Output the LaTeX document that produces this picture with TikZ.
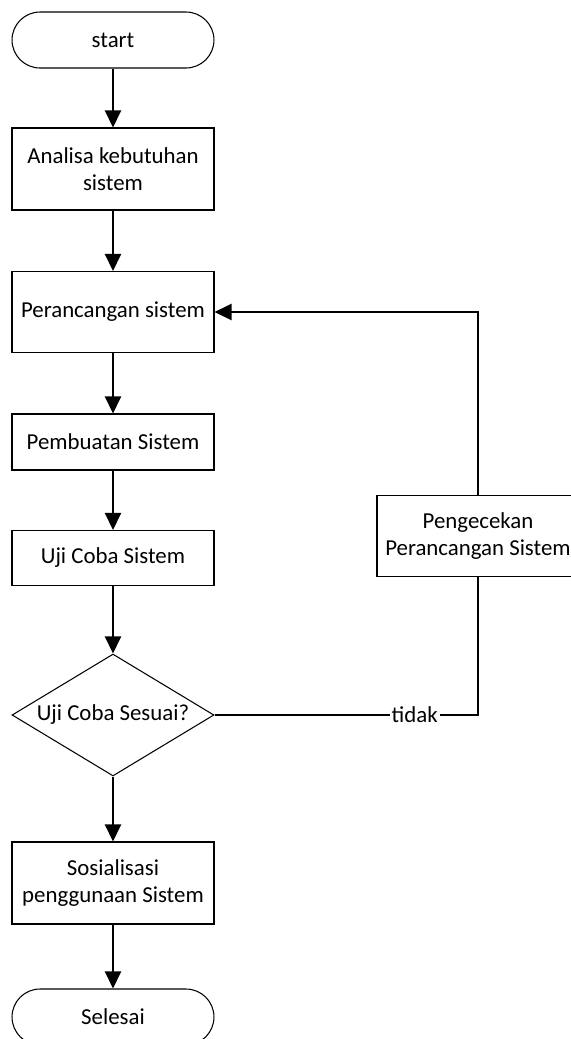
\documentclass[tikz,border=0pt]{standalone}
\usepackage{fontspec}
\setmainfont{Carlito}
\usetikzlibrary{shapes.geometric,arrows.meta}
\tikzset{
  terminal/.style={draw,rounded corners=0.56cm,minimum width=4.04cm,minimum height=1.12cm,line width=0.6pt},
  proses/.style={draw,align=center,minimum width=4.04cm,line width=0.6pt},
  keputusan/.style={draw,diamond,shape aspect=1.656,inner sep=0pt,minimum width=4.04cm,minimum height=2.44cm,line width=0.6pt},
  alur/.style={line width=1.2pt,-{Triangle[length=0.34cm,width=0.32cm]}},
  garis/.style={line width=1.2pt}
}
\begin{document}
\begin{tikzpicture}[x=0.02cm,y=-0.02cm,font=\fontsize{13}{15.3}\selectfont]
    \useasboundingbox (0,0) rectangle (571,1039);
    \node[terminal] (start) at (113,40) {start};
    \node[proses,minimum height=1.64cm] (analisa) at (113,169) {Analisa kebutuhan\\sistem};
    \node[proses,minimum height=1.62cm] (rancang) at (113,312) {Perancangan sistem};
    \node[proses,minimum height=1.12cm] (buat) at (113,442) {Pembuatan Sistem};
    \node[proses,minimum height=1.1cm] (uji) at (113,558) {Uji Coba Sistem};
    \node[keputusan] (sesuai) at (113,715) {Uji Coba Sesuai?};
    \node[proses,minimum height=1.64cm] (sosialisasi) at (113,883) {Sosialisasi\\penggunaan Sistem};
    \node[terminal] (selesai) at (113,1017) {Selesai};
    \node[proses,minimum height=1.62cm] (cek) at (478,536) {Pengecekan\\Perancangan Sistem};
    \draw [alur] (start) -- (analisa);
    \draw [alur] (analisa) -- (rancang);
    \draw [alur] (rancang) -- (buat);
    \draw [alur] (buat) -- (uji);
    \draw [alur] (uji) -- (sesuai);
    \draw [alur] (sesuai) -- (sosialisasi);
    \draw [alur] (sosialisasi) -- (selesai);
    \draw [garis] (sesuai) -| node [pos=0.38,fill=white,inner sep=1pt] {tidak} (cek);
    \draw [alur] (cek) |- (rancang);
\end{tikzpicture}
\end{document}
